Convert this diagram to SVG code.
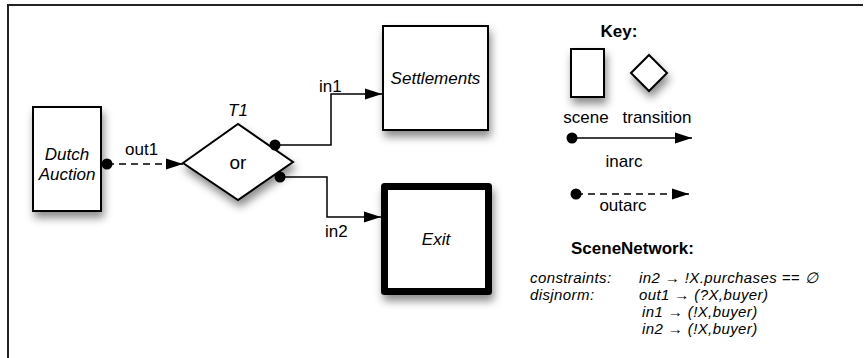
<svg xmlns="http://www.w3.org/2000/svg" width="868" height="358" viewBox="0 0 868 358">
<style>
text{font-family:"Liberation Sans",Arial,sans-serif;font-size:17px;fill:#000}
.it{font-style:italic}
.b{font-weight:bold}
.mid{text-anchor:middle}
.sn{font-size:15px;letter-spacing:0.4px}
.node{fill:#fff;stroke:#000;stroke-width:2}
.thick{fill:#fff;stroke:#000;stroke-width:7;stroke-linejoin:round}
.arc{fill:none;stroke:#000;stroke-width:1.5}
.dash{stroke-dasharray:7 5}
.dot{fill:#000}
.frame{fill:none;stroke:#222;stroke-width:2}
</style>
<defs>
<filter id="sh" x="-30%" y="-30%" width="170%" height="170%">
<feDropShadow dx="2" dy="6" stdDeviation="4" flood-color="#000" flood-opacity="0.45"/>
</filter>
<marker id="ah" markerUnits="userSpaceOnUse" markerWidth="18" markerHeight="12" refX="17" refY="6" orient="auto">
<path d="M0,0.5 L17,6 L0,11.5 Z" fill="#000"/>
</marker>
</defs>
<path class="frame" d="M8,358 L8,5 L863,5"/>
<g id="dutch-auction">
<rect class="node" x="33" y="107" width="68" height="104" filter="url(#sh)"/>
<text class="it mid" x="67" y="160">Dutch</text>
<text class="it mid" x="67" y="180">Auction</text>
</g>
<g id="t1">
<polygon class="node" points="183,163 238,124 293,162 238,200" filter="url(#sh)"/>
<text class="it mid" x="238" y="116">T1</text>
<text class="mid" x="238" y="169" style="font-size:19px">or</text>
</g>
<g id="settlements">
<rect class="node" x="383" y="26" width="105" height="104" filter="url(#sh)"/>
<text class="it mid" x="435.5" y="84">Settlements</text>
</g>
<g id="exit">
<rect class="thick" x="384.5" y="186.5" width="104" height="105" filter="url(#sh)"/>
<text class="it mid" x="436" y="245">Exit</text>
</g>
<g id="connectors">
<circle class="dot" cx="107" cy="164" r="5.5"/>
<path class="arc dash" d="M107,164 L183,164" marker-end="url(#ah)"/>
<text x="125" y="155">out1</text>
<circle class="dot" cx="275" cy="145" r="5.5"/>
<path class="arc" d="M275,145 L331,145 L331,94 L382,94" marker-end="url(#ah)"/>
<text x="319" y="92">in1</text>
<circle class="dot" cx="280" cy="177" r="5.5"/>
<path class="arc" d="M280,177 L327,177 L327,217 L381,217" marker-end="url(#ah)"/>
<text x="325" y="237">in2</text>
</g>
<g id="key">
<text class="b mid" x="619" y="37">Key:</text>
<rect class="node" x="571" y="49" width="33" height="48" filter="url(#sh)"/>
<polygon class="node" points="631,73 649,55 667,73 649,91" filter="url(#sh)"/>
<text class="mid" x="586" y="123">scene</text>
<text class="mid" x="657" y="123">transition</text>
<circle class="dot" cx="572" cy="138" r="5.5"/>
<path class="arc" d="M572,138 L692,138" marker-end="url(#ah)"/>
<text class="mid" x="624" y="167">inarc</text>
<circle class="dot" cx="576" cy="194" r="5.5"/>
<path class="arc dash" d="M576,194 L689,194" marker-end="url(#ah)"/>
<text class="mid" x="623" y="211">outarc</text>
</g>
<g id="scene-network">
<text class="b" x="571" y="254">SceneNetwork:</text>
<text class="it sn" x="530" y="283">constraints:</text>
<text class="it sn" x="639" y="283">in2 → !X.purchases == ∅</text>
<text class="it sn" x="530" y="300">disjnorm:</text>
<text class="it sn" x="639" y="300">out1 → (?X,buyer)</text>
<text class="it sn" x="642" y="317">in1 → (!X,buyer)</text>
<text class="it sn" x="642" y="334">in2 → (!X,buyer)</text>
</g>
</svg>
